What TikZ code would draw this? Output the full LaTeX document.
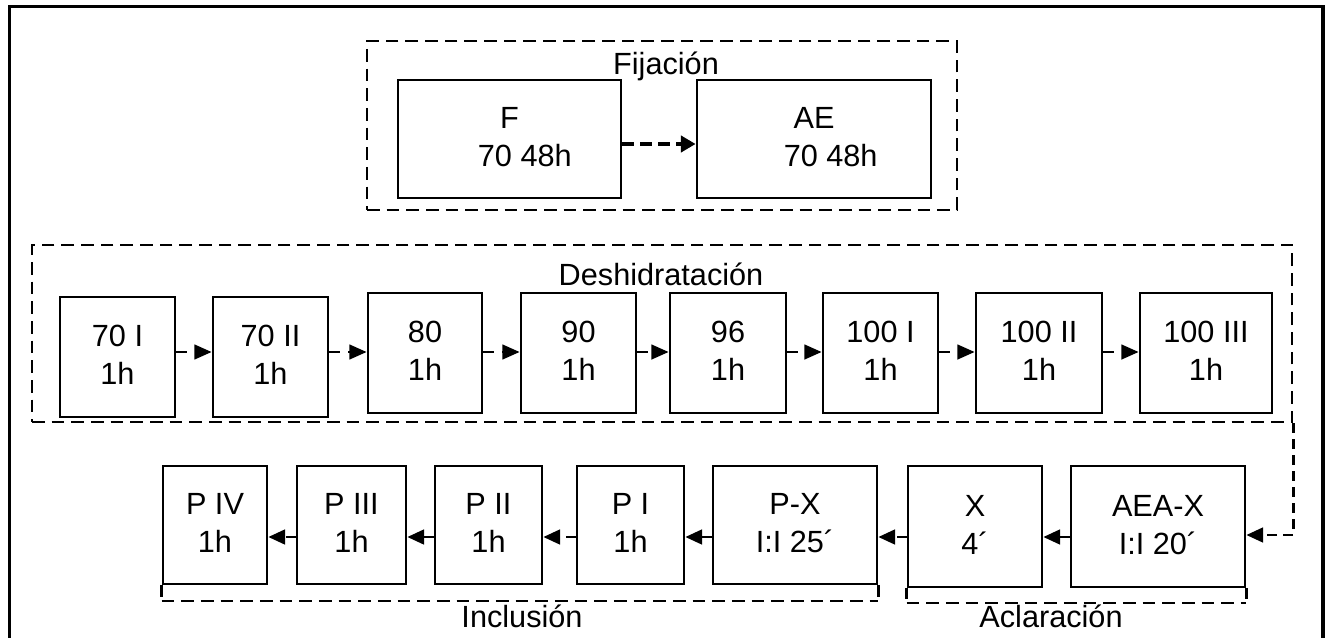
\documentclass[tikz,border=0pt]{standalone}
\usepackage{fontspec}
\setmainfont{Liberation Sans}
\usetikzlibrary{arrows.meta}
\begin{document}
\begin{tikzpicture}[x=0.75pt,y=-0.75pt,
  every node/.style={font=\fontsize{23}{28.5}\selectfont},
  box/.style={draw, line width=2.05pt, align=center, inner sep=0pt, text depth=3pt},
  sz/.style 2 args={minimum width=#1*0.75pt, minimum height=#2*0.75pt},
  grpbox/.style={draw, line width=2pt, dash pattern=on 9.5pt off 5.25pt, inner sep=0pt},
  grpline/.style={line width=2pt, dash pattern=on 9.5pt off 5.25pt},
  tick/.style={line width=2pt},
  lbl/.style={anchor=base, inner sep=0pt},
  fixarr/.style={line width=3.2pt, dash pattern=on 9pt off 4.5pt, -{Triangle[length=11pt,width=12pt]}},
  toparr/.style={line width=1.9pt, dash pattern=on 8pt off 6pt, -{Triangle[length=13pt,width=11pt]}},
  botarr/.style={line width=1.9pt, dash pattern=on 7.5pt off 4.5pt, -{Triangle[length=12.5pt,width=11pt]}},
]
\useasboundingbox (0,0) rectangle (1327,638);
% outer frame (open at the bottom)
\draw[line width=2.4pt] (9.5,645) -- (9.5,6.5) -- (1323,6.5) -- (1323,645);

% ---------- Fijacion ----------
\node[grpbox, sz={590}{169}] (gfij) at (662,125.5) {};
\node[lbl] (lfij) at (666,75) {Fijación};
\node[box, sz={223}{118}] (F) at (509.5,139) {F\\\hspace*{23pt}70 48h};
\node[box, sz={234}{118}] (AE) at (814,139) {AE\\\hspace*{25pt}70 48h};
\draw[fixarr] (F.east |- 0,144) -- (AE.west |- 0,144);

% ---------- Deshidratacion ----------
\node[grpbox, sz={1260}{177}] (gdes) at (662,333.5) {};
\node[lbl] (ldes) at (661,285) {Deshidratación};
\node[box, sz={115}{120}] (t1) at (117.5,357) {70 I\\1h};
\node[box, sz={115}{120}] (t2) at (270.5,357) {70 II\\1h};
\node[box, sz={114}{120}] (t3) at (425,353) {80\\1h};
\node[box, sz={115}{120}] (t4) at (578.5,353) {90\\1h};
\node[box, sz={116}{120}] (t5) at (728,353) {96\\1h};
\node[box, sz={115}{120}] (t6) at (880.5,353) {100 I\\1h};
\node[box, sz={126}{120}] (t7) at (1039,353) {100 II\\1h};
\node[box, sz={132}{120}] (t8) at (1206,353) {100 III\\1h};
\foreach \a/\b in {t1/t2,t2/t3,t3/t4,t4/t5,t5/t6,t6/t7,t7/t8}
  \draw[toparr] (\a.east |- 0,352) -- (\b.west |- 0,352);

% ---------- Aclaracion / Inclusion ----------
\node[box, sz={104}{118}] (b1) at (215,525) {P IV\\1h};
\node[box, sz={109}{118}] (b2) at (351.5,525) {P III\\1h};
\node[box, sz={107}{118}] (b3) at (488.5,525) {P II\\1h};
\node[box, sz={107}{118}] (b4) at (630.5,525) {P I\\1h};
\node[box, sz={164}{118}] (b5) at (795,525) {P-X\\I:I 25´};
\node[box, sz={134}{121}] (b6) at (975,526.5) {X\\4´};
\node[box, sz={174}{121}] (b7) at (1158,526.5) {AEA-X\\I:I 20´};
\foreach \a/\b in {b7/b6,b6/b5,b5/b4,b4/b3,b3/b2,b2/b1}
  \draw[botarr] (\a.west |- 0,537) -- (\b.east |- 0,537);

% connector from Deshidratacion group to AEA-X
\draw[botarr] (gdes.south east) |- (b7.east |- 0,535);

% Inclusion bracket
\draw[tick] (b1.south west) -- ++(0,12);
\draw[tick] (b5.south east) -- ++(0,12);
\draw[grpline] (b1.south west |- 0,601) -- (b5.south east |- 0,601);
\node[lbl] (linc) at (522,627) {Inclusión};

% Aclaracion bracket
\draw[tick] (b6.south west) -- ++(0,11);
\draw[tick] (b7.south east) -- ++(0,11);
\draw[grpline] (b6.south west |- 0,603) -- (b7.south east |- 0,603);
\node[lbl] (lacl) at (1051,627) {Aclaración};
\end{tikzpicture}
\end{document}
